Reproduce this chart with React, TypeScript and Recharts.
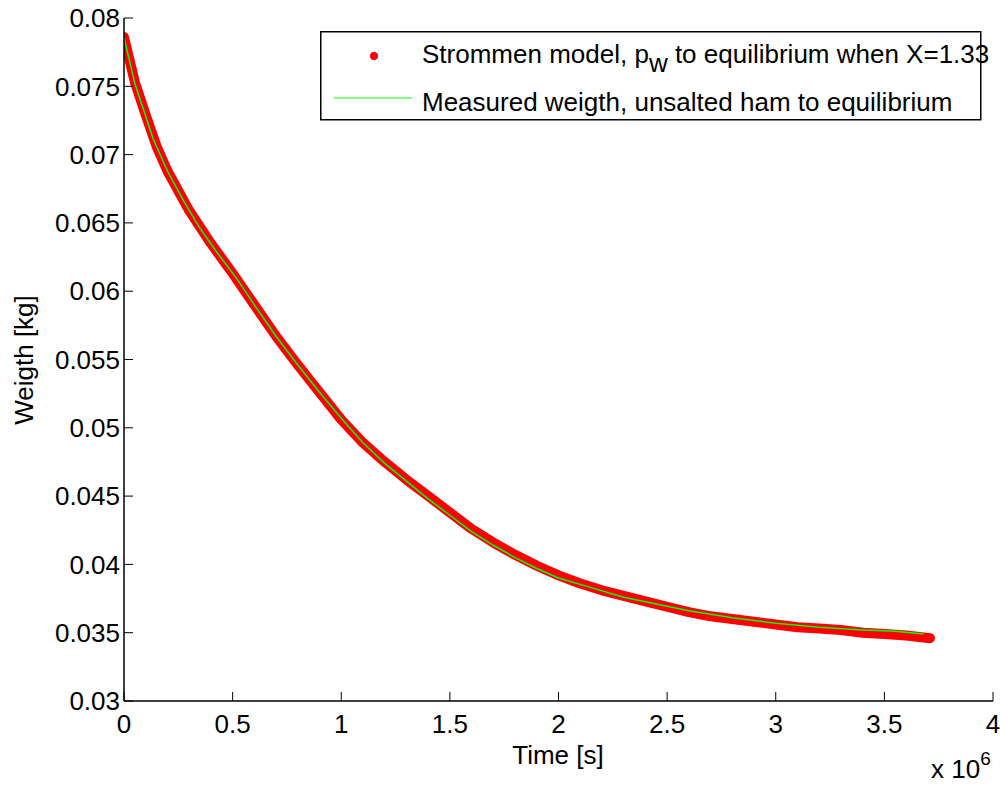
import { LineChart, Line, XAxis, YAxis, Legend } from "recharts";

// time axis is in seconds, labelled in units of 1e6
const measuredTime = [
  0, 0.025e6, 0.05e6, 0.075e6, 0.1e6, 0.133e6, 0.2e6, 0.275e6, 0.35e6, 0.43e6, 0.52e6, 0.6e6,
  0.7e6, 0.8e6, 0.9e6, 1.0e6, 1.1e6, 1.2e6, 1.3e6, 1.4e6, 1.5e6, 1.6e6, 1.7e6, 1.8e6, 1.9e6,
  2.0e6, 2.15e6, 2.3e6, 2.45e6, 2.6e6, 2.8e6, 3.0e6, 3.2e6, 3.4e6, 3.55e6, 3.68e6,
];
const measuredWeight = [
  0.0786, 0.0769, 0.0752, 0.074, 0.0728, 0.0712, 0.0688, 0.0666, 0.0646, 0.0628, 0.0609, 0.059,
  0.0567, 0.0546, 0.0526, 0.0507, 0.0489, 0.0474, 0.0461, 0.0448, 0.0436, 0.0424, 0.0414, 0.0405,
  0.0397, 0.039, 0.0383, 0.0376, 0.0371, 0.0366, 0.0361, 0.0357, 0.0354, 0.0352, 0.0351, 0.0349,
];

const modelTime = [
  0, 0.05e6, 0.1e6, 0.15e6, 0.2e6, 0.3e6, 0.4e6, 0.5e6, 0.6e6, 0.7e6, 0.8e6, 0.9e6, 1.0e6,
  1.1e6, 1.2e6, 1.3e6, 1.4e6, 1.5e6, 1.6e6, 1.7e6, 1.8e6, 1.9e6, 2.0e6, 2.1e6, 2.2e6, 2.3e6,
  2.4e6, 2.5e6, 2.6e6, 2.7e6, 2.8e6, 2.9e6, 3.0e6, 3.1e6, 3.2e6, 3.3e6, 3.4e6, 3.5e6, 3.6e6, 3.71e6,
];
const modelWeight = [
  0.0786, 0.0753, 0.0729, 0.0706, 0.0688, 0.0659, 0.0635, 0.0613, 0.059, 0.0567, 0.0546, 0.0526,
  0.0506, 0.0489, 0.0475, 0.0462, 0.045, 0.0438, 0.0426, 0.0416, 0.0407, 0.0399, 0.0392, 0.0386,
  0.0381, 0.0377, 0.0373, 0.0369, 0.0365, 0.0362, 0.036, 0.0358, 0.0356, 0.0354, 0.0353, 0.0352,
  0.035, 0.0349, 0.0348, 0.0346,
];

const xTicks = [0, 0.5e6, 1e6, 1.5e6, 2e6, 2.5e6, 3e6, 3.5e6, 4e6];
const yTicks = [0.03, 0.035, 0.04, 0.045, 0.05, 0.055, 0.06, 0.065, 0.07, 0.075, 0.08];

const measured = measuredTime.map((t, i) => ({ t, w: measuredWeight[i] }));
const model = modelTime.map((t, i) => ({ t, w: modelWeight[i] }));

const FONT = "'Liberation Sans', Arial, Helvetica, sans-serif";
const tickStyle = { fontSize: 26, fill: "#000", fontFamily: FONT };
const axisLine = { stroke: "#000", strokeWidth: 1.5 };
const tickLine = { stroke: "#000", strokeWidth: 1 };

const fmtX = (v: number) => String(v / 1e6);
const fmtY = (v: number) => String(Number(v.toFixed(3)));
const blank = () => "";

const LegendBox = () => (
  <svg width={662} height={90} style={{ display: "block", overflow: "visible" }}>
    <rect x={0.75} y={0.75} width={660} height={88} fill="#fff" stroke="#000" strokeWidth={1.5} />
    <circle cx={54} cy={25} r={4} fill="#ff0000" />
    <text x={102} y={32} fontSize={26} fontFamily={FONT} fill="#000">
      Strommen model, p
      <tspan dy={9}>w</tspan>
      <tspan dy={-9}> to equilibrium when X=1.33</tspan>
    </text>
    <line x1={14} x2={92} y1={67} y2={67} stroke="#00ff00" strokeWidth={1} />
    <text x={102} y={80} fontSize={26} fontFamily={FONT} fill="#000">
      Measured weigth, unsalted ham to equilibrium
    </text>
  </svg>
);

const App = () => (
  <div style={{ position: "absolute", left: 0, top: 0, width: 1000, height: 785, background: "#fff" }}>
    <LineChart width={1000} height={785} margin={{ top: 18, right: 7, bottom: 0, left: 0 }}>
      <XAxis
        dataKey="t"
        type="number"
        domain={[0, 4e6]}
        ticks={xTicks}
        tickFormatter={fmtX}
        height={84}
        tickSize={-9}
        tickMargin={23}
        axisLine={axisLine}
        tickLine={tickLine}
        tick={tickStyle}
        allowDataOverflow
      />
      <XAxis
        xAxisId="top"
        dataKey="t"
        type="number"
        orientation="top"
        domain={[0, 4e6]}
        ticks={xTicks}
        tickFormatter={blank}
        height={0}
        mirror
        tickSize={9}
        axisLine={axisLine}
        tickLine={tickLine}
        allowDataOverflow
      />
      <YAxis
        type="number"
        domain={[0.03, 0.08]}
        ticks={yTicks}
        tickFormatter={fmtY}
        width={124}
        tickSize={-9}
        tickMargin={13}
        axisLine={axisLine}
        tickLine={tickLine}
        tick={tickStyle}
        allowDataOverflow
      />
      <YAxis
        yAxisId="right"
        type="number"
        orientation="right"
        domain={[0.03, 0.08]}
        ticks={yTicks}
        tickFormatter={blank}
        width={0}
        mirror
        tickSize={9}
        axisLine={axisLine}
        tickLine={tickLine}
        allowDataOverflow
      />
      <Legend
        layout="horizontal"
        align="center"
        verticalAlign="middle"
        content={() => <LegendBox />}
        wrapperStyle={{ position: "absolute", left: 320, top: 31, width: 662, height: 90 }}
      />
      <Line
        data={model}
        dataKey="w"
        type="linear"
        stroke="#ff0000"
        strokeWidth={10}
        strokeLinecap="round"
        strokeLinejoin="round"
        dot={false}
        activeDot={false}
        isAnimationActive={false}
        name="Strommen model"
      />
      <Line
        data={measured}
        dataKey="w"
        type="linear"
        stroke="#00ff00"
        strokeWidth={1.5}
        dot={false}
        activeDot={false}
        isAnimationActive={false}
        name="Measured weigth"
      />
      <text x={558} y={764} textAnchor="middle" fontSize={26} fontFamily={FONT} fill="#000">
        Time [s]
      </text>
      <text x={931} y={778} fontSize={26} fontFamily={FONT} fill="#000">
        x 10
        <tspan dy={-13} fontSize={19}>6</tspan>
      </text>
      <text
        transform="translate(33,360) rotate(-90)"
        textAnchor="middle"
        fontSize={26}
        fontFamily={FONT}
        fill="#000"
      >
        Weigth [kg]
      </text>
    </LineChart>
  </div>
);

export default App;
